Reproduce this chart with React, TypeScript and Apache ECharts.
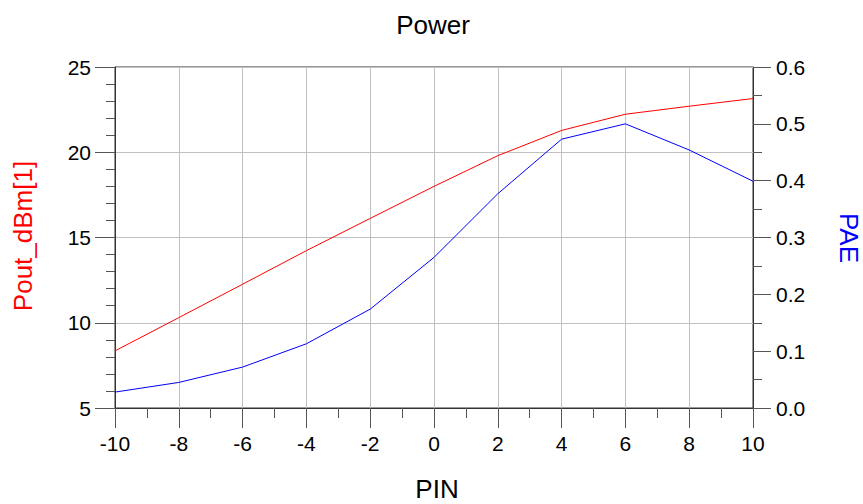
import React, { useEffect, useRef } from "react";
import * as echarts from "echarts";

const pin = [-10, -8, -6, -4, -2, 0, 2, 4, 6, 8, 10];
const pout = [8.35, 10.3, 12.26, 14.23, 16.12, 18.0, 19.8, 21.28, 22.23, 22.7, 23.15];
const pae = [0.028, 0.045, 0.072, 0.113, 0.174, 0.265, 0.377, 0.473, 0.5, 0.454, 0.399];

const titleText = "Power";
const xName = "PIN";
const leftName = "Pout_dBm[1]";
const rightName = "PAE";

const FONT = "'Liberation Sans', Arial, sans-serif";

export default function App() {
  const ref = useRef<HTMLDivElement>(null);
  useEffect(() => {
    if (!ref.current) return;
    const chart = echarts.init(ref.current, undefined, { renderer: "svg" });
    const axisLine = { show: true, onZero: false, lineStyle: { color: "#333", width: 1 } };
    const tickStyle = { color: "#555", width: 1 };
    const label = { color: "#000", fontSize: 21, fontFamily: FONT };
    chart.setOption({
      animation: false,
      backgroundColor: "#fff",
      grid: {
        left: 115,
        right: 110,
        top: 67,
        bottom: 96,
        show: true,
        borderColor: "#333",
        borderWidth: 1,
        backgroundColor: "transparent",
      },
      xAxis: {
        type: "value",
        min: -10,
        max: 10,
        interval: 2,
        axisLine,
        axisTick: { show: true, inside: false, length: 20, lineStyle: tickStyle },
        minorTick: { show: true, splitNumber: 2, length: 10, lineStyle: tickStyle },
        axisLabel: { ...label, margin: 25 },
        splitLine: { show: true, lineStyle: { color: "#c0c0c0", width: 1 } },
      },
      yAxis: [
        {
          type: "value",
          position: "left",
          min: 5,
          max: 25,
          interval: 5,
          axisLine,
          axisTick: { show: true, inside: false, length: 20, lineStyle: tickStyle },
          minorTick: { show: true, splitNumber: 5, length: 9, lineStyle: tickStyle },
          axisLabel: { ...label, margin: 24 },
          splitLine: { show: true, lineStyle: { color: "#c0c0c0", width: 1 } },
        },
        {
          type: "value",
          position: "right",
          min: 0,
          max: 0.6,
          interval: 0.1,
          axisLine,
          axisTick: { show: true, inside: false, length: 18, lineStyle: tickStyle },
          minorTick: { show: true, splitNumber: 2, length: 9, lineStyle: tickStyle },
          axisLabel: { ...label, margin: 23, formatter: (v: number) => v.toFixed(1) },
          splitLine: { show: false },
        },
      ],
      series: [
        {
          name: leftName,
          type: "line",
          yAxisIndex: 0,
          data: pin.map((x, i) => [x, pout[i]]),
          showSymbol: false,
          lineStyle: { color: "#ff0000", width: 1 },
          itemStyle: { color: "#ff0000" },
        },
        {
          name: rightName,
          type: "line",
          yAxisIndex: 1,
          data: pin.map((x, i) => [x, pae[i]]),
          showSymbol: false,
          lineStyle: { color: "#0000ff", width: 1 },
          itemStyle: { color: "#0000ff" },
        },
      ],
      graphic: [
        {
          type: "text",
          x: 433,
          y: 25,
          style: {
            text: titleText,
            fontSize: 26,
            fontFamily: FONT,
            fill: "#000",
            align: "center",
            verticalAlign: "middle",
          },
        },
        {
          type: "text",
          x: 437,
          y: 489,
          style: {
            text: xName,
            fontSize: 26,
            fontFamily: FONT,
            fill: "#000",
            align: "center",
            verticalAlign: "middle",
          },
        },
        {
          type: "text",
          x: 23,
          y: 236,
          rotation: Math.PI / 2,
          style: {
            text: leftName,
            fontSize: 26,
            fontFamily: FONT,
            fill: "#ff0000",
            align: "center",
            verticalAlign: "middle",
          },
        },
        {
          type: "text",
          x: 849,
          y: 238,
          rotation: -Math.PI / 2,
          style: {
            text: rightName,
            fontSize: 26,
            fontFamily: FONT,
            fill: "#0000ff",
            align: "center",
            verticalAlign: "middle",
          },
        },
      ],
    });
    return () => chart.dispose();
  }, []);
  return (
    <div
      ref={ref}
      style={{ position: "fixed", left: 0, top: 0, width: 863, height: 504 }}
    />
  );
}
